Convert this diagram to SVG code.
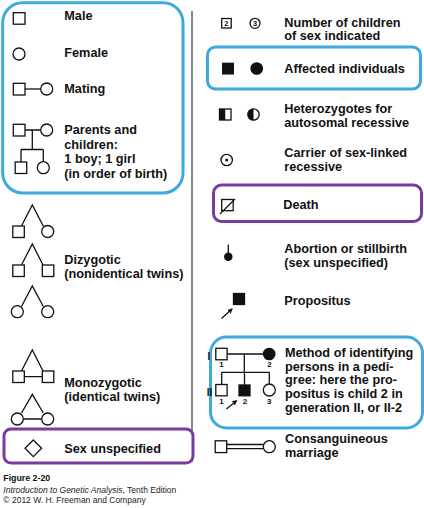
<svg xmlns="http://www.w3.org/2000/svg" width="424" height="508" viewBox="0 0 424 508">
<defs>
<style>
.s{fill:#fff;stroke:#111;stroke-width:1.3}
.f{fill:#111;stroke:#111;stroke-width:1.3}
.ln{fill:none;stroke:#111;stroke-width:1.3}
.t{font-family:"Liberation Sans",Arial,sans-serif;font-weight:bold;font-size:12.7px;fill:#111}
.n{font-family:"Liberation Sans",Arial,sans-serif;font-weight:bold;font-size:8px;fill:#111;text-anchor:middle}
.c{font-family:"Liberation Sans",Arial,sans-serif;font-size:8.5px;fill:#222}
.blue{fill:none;stroke:#3ea9de;stroke-width:3}
.purp{fill:none;stroke:#7a3b9e;stroke-width:3}
</style>
<marker id="ah" viewBox="0 0 10 10" refX="8" refY="5" markerWidth="4" markerHeight="4" orient="auto" markerUnits="strokeWidth">
<path d="M0,0 L10,5 L0,10 Z" fill="#111"/>
</marker>
</defs>
<rect width="424" height="508" fill="#fff"/>

<g id="frames">
<rect class="blue" x="2.7" y="2.7" width="180.3" height="190.3" rx="20"/>
<line x1="192" y1="11" x2="192" y2="462" stroke="#555" stroke-width="1.4"/>
<rect class="purp" x="4" y="429" width="189" height="34" rx="7" fill="#fff" style="fill:#fff"/>
<rect class="blue" x="207.5" y="47" width="213" height="42" rx="8"/>
<rect class="purp" x="213.5" y="185" width="208" height="36.5" rx="8"/>
<rect class="blue" x="210.5" y="337" width="212" height="91" rx="16"/>
</g>

<g id="male">
<rect class="s" x="13.3" y="12.7" width="11.7" height="11.5"/>
<text class="t" x="64.3" y="20">Male</text>
</g>
<g id="female">
<circle class="s" cx="19" cy="54" r="6"/>
<text class="t" x="64.3" y="57">Female</text>
</g>
<g id="mating">
<line class="ln" x1="25" y1="89" x2="40.7" y2="89"/>
<rect class="s" x="13.3" y="83.3" width="11.7" height="11.7"/>
<circle class="s" cx="46.7" cy="89" r="6"/>
<text class="t" x="64.3" y="92.5">Mating</text>
</g>
<g id="parents">
<path class="ln" d="M25,130 H40.7 M32.3,130 V149.5 M21,149.5 H43.3 M21,149.5 V162 M43.3,149.5 V161.5"/>
<rect class="s" x="13.3" y="124.3" width="11.7" height="11.7"/>
<circle class="s" cx="46.7" cy="130" r="6"/>
<rect class="s" x="15.2" y="162" width="11.5" height="11.5"/>
<circle class="s" cx="43.3" cy="167.7" r="6"/>
<text class="t" x="64.3" y="134">Parents and</text>
<text class="t" x="64.3" y="148.5">children:</text>
<text class="t" x="64.3" y="163">1 boy; 1 girl</text>
<text class="t" x="64.3" y="177.5">(in order of birth)</text>
</g>

<g id="dizygotic">
<path class="ln" d="M21.5,226 L32.3,205 L43.5,226.5"/>
<rect class="s" x="12.8" y="226" width="11.5" height="11.5"/>
<circle class="s" cx="47.7" cy="231.5" r="6"/>
<path class="ln" d="M21.5,265 L32.3,244 L43,265"/>
<rect class="s" x="12.8" y="265" width="11.5" height="11.5"/>
<rect class="s" x="42.3" y="265" width="11.5" height="11.5"/>
<path class="ln" d="M21.5,306.5 L32.3,286 L43.3,306.5"/>
<circle class="s" cx="17.3" cy="311.7" r="6"/>
<circle class="s" cx="47.7" cy="311.7" r="6"/>
<text class="t" x="64.3" y="264">Dizygotic</text>
<text class="t" x="64.3" y="277.5">(nonidentical twins)</text>
</g>

<g id="monozygotic">
<path class="ln" d="M21.5,371 L32.3,350 L43,371 M24,376.7 H42.3"/>
<rect class="s" x="12.8" y="371" width="11.5" height="11.5"/>
<rect class="s" x="42.3" y="371" width="11.5" height="11.5"/>
<path class="ln" d="M21.5,413 L32.3,394.3 L43.3,413 M23.3,419 H41.7"/>
<circle class="s" cx="17.3" cy="419" r="6"/>
<circle class="s" cx="47.7" cy="419" r="6"/>
<text class="t" x="64.3" y="387">Monozygotic</text>
<text class="t" x="64.3" y="400.5">(identical twins)</text>
</g>

<g id="sex-unspecified">
<path class="s" d="M33.3,440 L41.6,448.3 L33.3,456.6 L25,448.3 Z"/>
<text class="t" x="64.3" y="452.7">Sex unspecified</text>
</g>

<g id="number-of-children">
<rect class="s" x="221.7" y="18.5" width="9.5" height="9.5"/>
<text class="n" x="226.45" y="26" style="font-size:7.5px">2</text>
<circle class="s" cx="255" cy="23.3" r="5"/>
<text class="n" x="255" y="26" style="font-size:7.5px">3</text>
<text class="t" x="284.3" y="26.5">Number of children</text>
<text class="t" x="284.3" y="40">of sex indicated</text>
</g>

<g id="affected">
<rect class="f" x="222.7" y="63.3" width="10.6" height="10.6"/>
<circle class="f" cx="256.7" cy="68.5" r="5.7"/>
<text class="t" x="284.3" y="72.7">Affected individuals</text>
</g>

<g id="heterozygotes">
<rect class="s" x="219.5" y="109" width="11.5" height="11"/>
<rect x="219.5" y="109" width="5.75" height="11" fill="#111"/>
<circle class="s" cx="253.5" cy="114.5" r="5.7"/>
<path d="M253.5,108.8 A5.7,5.7 0 0 0 253.5,120.2 Z" fill="#111"/>
<text class="t" x="284.3" y="112.5">Heterozygotes for</text>
<text class="t" x="284.3" y="127">autosomal recessive</text>
</g>

<g id="carrier">
<circle class="s" cx="226.7" cy="160" r="5.7"/>
<circle cx="226.7" cy="160" r="1.5" fill="#111"/>
<text class="t" x="284.3" y="156.7">Carrier of sex-linked</text>
<text class="t" x="284.3" y="171">recessive</text>
</g>

<g id="death">
<rect class="s" x="221.7" y="199.5" width="11.5" height="11.2"/>
<line class="ln" x1="220" y1="214" x2="235" y2="199"/>
<text class="t" x="283.3" y="209.3">Death</text>
</g>

<g id="abortion">
<line class="ln" x1="228.3" y1="244.5" x2="228.3" y2="254"/>
<circle class="f" cx="228.3" cy="256.8" r="3.6"/>
<text class="t" x="284.3" y="252.7">Abortion or stillbirth</text>
<text class="t" x="284.3" y="266.7">(sex unspecified)</text>
</g>

<g id="propositus">
<rect class="f" x="233.5" y="293.5" width="11" height="11"/>
<line class="ln" x1="221.5" y1="318.5" x2="232" y2="309" stroke-width="1.5" marker-end="url(#ah)"/>
<text class="t" x="284.3" y="305">Propositus</text>
</g>

<g id="pedigree-method">
<path class="ln" d="M227.5,354 H263.5 M244.3,354 V372.3 M221.7,372.3 H269.3 M221.7,372.3 V384.5 M244.5,372.3 V385 M269.3,372.3 V384"/>
<rect class="s" x="215.8" y="348.3" width="11.3" height="11.5"/>
<circle class="f" cx="269.2" cy="354" r="5.7"/>
<rect class="s" x="215.8" y="384.5" width="11.3" height="11.3"/>
<rect class="f" x="239" y="385" width="11" height="10.8"/>
<circle class="s" cx="269.3" cy="390" r="6"/>
<text class="n" x="209" y="360" style="font-size:10px">I</text>
<text class="n" x="209.5" y="395.5" style="font-size:10px">II</text>
<text class="n" x="221.5" y="367">1</text>
<text class="n" x="269.5" y="367">2</text>
<text class="n" x="221.5" y="403.5">1</text>
<text class="n" x="245" y="403.5">2</text>
<text class="n" x="269.3" y="403.5">3</text>
<line class="ln" x1="226.5" y1="409" x2="236.5" y2="400.7" stroke-width="1.5" marker-end="url(#ah)"/>
<text class="t" x="285" y="357">Method of identifying</text>
<text class="t" x="285" y="370.7">persons in a pedi-</text>
<text class="t" x="285" y="384.4">gree: here the pro-</text>
<text class="t" x="285" y="398.1">positus is child 2 in</text>
<text class="t" x="285" y="411.8">generation II, or II-2</text>
</g>

<g id="consanguineous">
<path class="ln" d="M226.5,444.5 H263.8 M226.5,448.7 H263.8"/>
<rect class="s" x="215.2" y="440.8" width="11.5" height="11.8"/>
<circle class="s" cx="269.3" cy="446.7" r="6"/>
<text class="t" x="285" y="443.3">Consanguineous</text>
<text class="t" x="285" y="456.7">marriage</text>
</g>

<g id="caption">
<text class="c" x="3.3" y="481" style="font-weight:bold;font-size:8.8px;fill:#111">Figure 2-20</text>
<text class="c" x="3.3" y="492.5"><tspan font-style="italic">Introduction to Genetic Analysis</tspan>, Tenth Edition</text>
<text class="c" x="3.3" y="503">© 2012 W. H. Freeman and Company</text>
</g>
</svg>
